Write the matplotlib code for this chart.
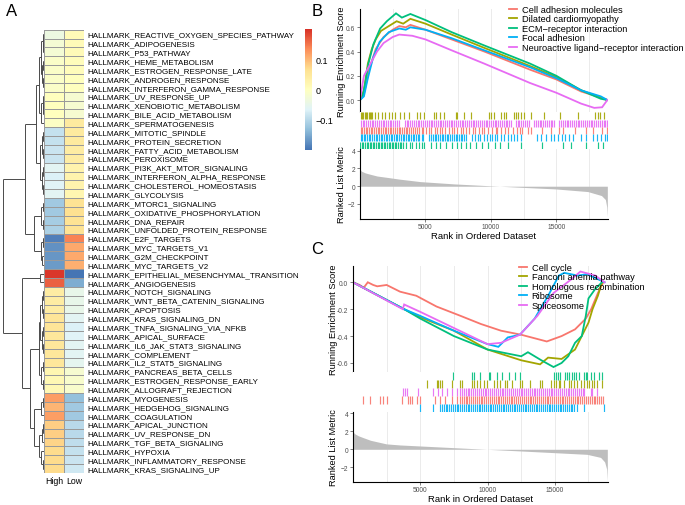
import numpy as np
import matplotlib
matplotlib.use("Agg")
import matplotlib.pyplot as plt
from matplotlib.colors import LinearSegmentedColormap
from matplotlib.lines import Line2D

plt.rcParams['font.family'] = ['Liberation Sans', 'DejaVu Sans']

# ---------------- Panel A data ----------------
pathways = [
    "REACTIVE_OXYGEN_SPECIES_PATHWAY", "ADIPOGENESIS", "P53_PATHWAY", "HEME_METABOLISM",
    "ESTROGEN_RESPONSE_LATE", "ANDROGEN_RESPONSE", "INTERFERON_GAMMA_RESPONSE", "UV_RESPONSE_UP",
    "XENOBIOTIC_METABOLISM", "BILE_ACID_METABOLISM", "SPERMATOGENESIS", "MITOTIC_SPINDLE",
    "PROTEIN_SECRETION", "FATTY_ACID_METABOLISM", "PEROXISOME", "PI3K_AKT_MTOR_SIGNALING",
    "INTERFERON_ALPHA_RESPONSE", "CHOLESTEROL_HOMEOSTASIS", "GLYCOLYSIS", "MTORC1_SIGNALING",
    "OXIDATIVE_PHOSPHORYLATION", "DNA_REPAIR", "UNFOLDED_PROTEIN_RESPONSE", "E2F_TARGETS",
    "MYC_TARGETS_V1", "G2M_CHECKPOINT", "MYC_TARGETS_V2", "EPITHELIAL_MESENCHYMAL_TRANSITION",
    "ANGIOGENESIS", "NOTCH_SIGNALING", "WNT_BETA_CATENIN_SIGNALING", "APOPTOSIS",
    "KRAS_SIGNALING_DN", "TNFA_SIGNALING_VIA_NFKB", "APICAL_SURFACE", "IL6_JAK_STAT3_SIGNALING",
    "COMPLEMENT", "IL2_STAT5_SIGNALING", "PANCREAS_BETA_CELLS", "ESTROGEN_RESPONSE_EARLY",
    "ALLOGRAFT_REJECTION", "MYOGENESIS", "HEDGEHOG_SIGNALING", "COAGULATION",
    "APICAL_JUNCTION", "UV_RESPONSE_DN", "TGF_BETA_SIGNALING", "HYPOXIA",
    "INFLAMMATORY_RESPONSE", "KRAS_SIGNALING_UP"]
row_labels = ["HALLMARK_" + p for p in pathways]
col_labels = ["High", "Low"]

high = [-0.04, -0.025, -0.025, -0.01, -0.01, -0.01, -0.01, 0.0, 0.0, 0.0, -0.005,
        -0.09, -0.09, -0.085, -0.085, -0.06, -0.07, -0.065, -0.06,
        -0.12, -0.12, -0.115, -0.11,
        -0.19, -0.175, -0.17, -0.165,
        0.195, 0.165,
        0.04, 0.04, 0.04, 0.055, 0.055, 0.05, 0.05, 0.05, 0.05, 0.02, 0.015, 0.015,
        0.12, 0.1, 0.12, 0.08, 0.08, 0.075, 0.07, 0.07, 0.07]
low = [0.01, 0.01, 0.01, 0.005, 0.005, 0.0, 0.0, -0.02, -0.02, -0.02, 0.045,
       0.045, 0.045, 0.04, 0.04, 0.025, 0.025, 0.025, 0.02,
       0.06, 0.065, 0.06, 0.06,
       0.14, 0.11, 0.11, 0.105,
       -0.2, -0.15,
       -0.05, -0.05, -0.05, -0.06, -0.07, -0.065, -0.06, -0.06, -0.055, -0.02, -0.015, -0.015,
       -0.13, -0.12, -0.12, -0.1, -0.1, -0.095, -0.09, -0.085, -0.08]

# row dendrogram: (height, left, right); leaves are row indices
A1a = (5.5, (3.0, (1.5, 0, (1.0, 1, 2)), (2.0, (1.2, 3, 4), (1.0, 5, 6))),
       (3.5, (1.5, 7, (1.0, 8, 9)), 10))
A1b = (4.0, (2.5, (1.5, 11, 12), (1.2, 13, 14)), (2.0, (1.0, 15, 16), (1.3, 17, 18)))
A2 = (10.7, (3.0, (1.5, 19, 20), (1.2, 21, 22)), (3.5, (1.5, 23, 24), (2.0, 25, 26)))
B1 = (4.7, 27, 28)
B2a = (5.7, (4.0, (2.5, (1.5, 29, 30), (1.2, 31, 32)), (2.0, (1.0, 33, 34), (1.3, 35, 36))),
       (3.0, (1.5, 37, 38), (1.0, 39, 40)))
B2b = (10.7, (3.5, (1.8, 41, 42), 43),
       (5.0, (2.5, (1.2, 44, 45), 46), (3.0, 47, (1.5, 48, 49))))
dendro = (41.3, (19.0, (8.3, A1a, A1b), A2), (22.3, B1, (14.7, B2a, B2b)))

# ---------------- Panel B data ----------------
b_names = ["Cell adhesion molecules", "Dilated cardiomyopathy", "ECM\u2212receptor interaction",
           "Focal adhesion", "Neuroactive ligand\u2212receptor interaction"]
b_colors = ["#F8766D", "#A3A500", "#00BF7D", "#00B0F6", "#E76BF3"]

b_red_x = [0, 300, 700, 1200, 1800, 2500, 3000, 3500, 3850, 5000, 7000, 9500, 13000, 15000, 16900, 18400, 18900]
b_red_y = [0, 0.05, 0.25, 0.42, 0.52, 0.58, 0.61, 0.60, 0.62, 0.58, 0.50, 0.40, 0.25, 0.17, 0.07, 0.02, 0.0]
b_olive_x = [0, 300, 600, 900, 1200, 1600, 2200, 2800, 3300, 3850, 5000, 7000, 9500, 13000, 15000, 16900, 18400, 18900]
b_olive_y = [0, 0.08, 0.30, 0.42, 0.50, 0.57, 0.61, 0.65, 0.63, 0.67, 0.63, 0.54, 0.43, 0.28, 0.19, 0.08, 0.02, 0.0]
b_green_x = [0, 200, 400, 640, 1025, 1540, 2050, 2750, 3200, 3850, 5000, 7000, 9500, 13000, 15000, 16900, 18400, 18900]
b_green_y = [0, 0.03, 0.14, 0.30, 0.46, 0.59, 0.65, 0.715, 0.68, 0.71, 0.66, 0.56, 0.45, 0.30, 0.20, 0.08, 0.01, 0.0]
b_blue_x = [0, 300, 600, 1000, 1500, 2200, 3000, 3500, 3850, 5000, 7000, 9500, 13000, 15000, 16900, 18400, 18900]
b_blue_y = [0, 0.03, 0.18, 0.35, 0.48, 0.56, 0.59, 0.58, 0.60, 0.58, 0.51, 0.41, 0.27, 0.18, 0.08, 0.03, 0.0]
b_mag_x = [0, 300, 800, 1300, 1800, 2500, 3000, 4000, 5000, 7000, 9500, 13000, 15000, 16900, 17900, 18500, 18900]
b_mag_y = [0, 0.20, 0.30, 0.40, 0.47, 0.52, 0.54, 0.53, 0.50, 0.41, 0.30, 0.14, 0.06, -0.03, -0.065, -0.06, 0.0]

b_rug_olive = [50, 150, 250, 350, 450, 550, 650, 750, 850, 950, 1150, 1410, 1670, 1925, 2180, 2440,
               2690, 3075, 3330, 3720, 4360, 4614, 4870, 5640, 5770, 6150, 6410, 7300, 7430, 7950,
               8460, 9870, 10000, 10250, 10770, 10970, 11150, 11790, 11920, 12050, 12300, 12510,
               13070, 14050, 15250, 16660, 17990, 18150, 18330, 18660]
b_rug_mag = [60, 200, 330, 470, 600, 760, 890, 1020, 1170, 1300, 1450, 1580, 1720, 1860, 2000, 2130,
             2270, 2400, 2550, 2690, 2820, 2960, 3420, 3560, 3700, 3850, 3980, 4120, 4260, 4400,
             4540, 4690, 4820, 4960, 5100, 5250, 5390, 5520, 5660, 5800, 5950, 6090, 6220, 6360,
             6500, 6640, 6790, 6920, 7060, 7200, 7340, 7490, 7620, 7760, 7900, 8050, 8190, 8320,
             8460, 8600, 8740, 8890, 9020, 9160, 9300, 9450, 9590, 9720, 9860, 10000, 10150, 10290,
             10420, 10560, 10700, 10850, 10990, 11120, 11260, 11400, 11540, 11900, 12040, 12180,
             12320, 12460, 12600, 12750, 12890, 13300, 13440, 13580, 13720, 13860, 14000, 14150,
             14290, 14420, 14560, 14700, 14850, 15230, 15370, 15500, 15640, 15780, 15920, 16060,
             16200, 16350, 16490, 16630, 16770, 16920, 17060, 17200, 17340, 17480, 17620, 17760,
             17900, 18050, 18190, 18330, 18470, 18610, 18750, 18880]
b_rug_red = [40, 180, 300, 430, 560, 700, 830, 950, 1080, 1200, 1350, 1480, 1600, 1750, 1880, 2000,
             2150, 2280, 2400, 2540, 2680, 2800, 2950, 3080, 3200, 3350, 3480, 3620, 3760, 3900,
             4050, 4200, 4350, 4500, 4700, 4850, 5050, 5300, 5450, 5700, 5900, 6150, 6300, 6500,
             6800, 7000, 7200, 7450, 7700, 7850, 8100, 8300, 8600, 8800, 9100, 9300, 9500, 9800,
             10100, 10400, 10500, 10800, 11100, 11300, 11700, 12000, 12200, 12400, 12800, 13100,
             13900, 14600, 15200, 15500, 16400, 17300, 17800, 18500, 18900]
b_rug_blue = [50, 170, 290, 420, 550, 680, 800, 930, 1060, 1190, 1320, 1450, 1580, 1700, 1830, 1960,
              2090, 2220, 2350, 2480, 2600, 2730, 2860, 2990, 3120, 3250, 3380, 3500, 3630, 3760,
              3890, 4020, 4150, 4280, 4410, 4540, 4700, 4850, 5300, 5430, 5560, 5700, 5830, 5960,
              6100, 6230, 6360, 6500, 6630, 6760, 6900, 7030, 7160, 7300, 7430, 7560, 7700, 7830,
              7960, 8100, 8550, 8800, 9000, 9200, 9500, 9700, 9900, 10100, 10300, 10500, 10800,
              11000, 11300, 11500, 11800, 12000, 12300, 13500, 13800, 14200, 14600, 14800, 15100,
              15400, 15700, 16000, 16300, 16900, 17300, 17800, 18100, 18400, 18700, 18900]
b_rug_green = [30, 140, 260, 380, 500, 620, 740, 860, 980, 1100, 1220, 1340, 1460, 1580, 1700, 1820,
               1940, 2060, 2180, 2300, 2420, 2540, 2660, 2780, 2900, 3020, 3140, 3280, 3550, 3800,
               4000, 4250, 4500, 4700, 4900, 5400, 5800, 6100, 6600, 7000, 7400, 7700, 8100, 8400,
               8900, 9300, 9800, 10300, 10700, 11300, 12300, 13900, 15500, 16100, 17300, 18200, 18600]

b_metric_x = [0, 100, 400, 770, 1300, 2050, 3000, 4600, 7200, 9700, 12300, 14900, 17400, 18450, 18750, 18850, 18900]
b_metric_y = [1.95, 1.7, 1.5, 1.35, 1.15, 1.0, 0.8, 0.52, 0.26, 0.07, -0.12, -0.3, -0.6, -1.05, -1.5, -2.3, -3.4]

# ---------------- Panel C data ----------------
c_names = ["Cell cycle", "Fanconi anemia pathway", "Homologous recombination", "Ribosome", "Spliceosome"]
c_colors = ["#F8766D", "#A3A500", "#00BF7D", "#00B0F6", "#E76BF3"]

c_red_x = [0, 500, 800, 1100, 1500, 1800, 2500, 3500, 4700, 6200, 8000, 9500, 11000, 12500, 14400, 15500, 16500, 17300, 17700, 18200, 18600]
c_red_y = [0, -0.02, -0.04, 0.0, -0.02, -0.03, -0.02, -0.07, -0.10, -0.18, -0.25, -0.31, -0.36, -0.39, -0.44, -0.40, -0.35, -0.27, -0.20, -0.08, 0.0]
c_olive_x = [0, 3800, 5000, 7500, 10000, 12500, 13900, 14500, 15500, 16500, 17000, 17500, 17800, 18200, 18500]
c_olive_y = [0, -0.20, -0.26, -0.36, -0.50, -0.58, -0.61, -0.56, -0.57, -0.50, -0.40, -0.30, -0.20, -0.10, 0.0]
c_green_x = [0, 3800, 5000, 7500, 10000, 12500, 13000, 14000, 14900, 15500, 16000, 16500, 17000, 17300, 17500, 18000, 18500]
c_green_y = [0, -0.20, -0.27, -0.40, -0.50, -0.55, -0.52, -0.58, -0.63, -0.60, -0.55, -0.45, -0.40, -0.25, -0.12, -0.05, 0.0]
c_blue_x = [0, 3800, 5000, 7500, 10000, 10800, 11500, 12400, 13500, 14500, 15300, 15700, 16700, 17400, 18700]
c_blue_y = [0, -0.20, -0.25, -0.36, -0.46, -0.48, -0.41, -0.39, -0.27, -0.10, 0.05, 0.07, 0.05, 0.06, 0.0]
c_mag_x = [0, 3700, 3800, 5000, 7500, 10000, 11000, 12400, 13700, 14900, 16200, 16900, 18000, 18700]
c_mag_y = [0, -0.20, -0.165, -0.22, -0.34, -0.46, -0.45, -0.39, -0.25, -0.08, 0.02, 0.08, 0.05, 0.0]

c_rug_green = [7460, 8830, 8955, 9450, 10080, 10200, 10700, 11070, 11570, 12060, 12440, 14920, 15050,
               15220, 15420, 15790, 15920, 16040, 16290, 16410, 16540, 16790, 17160, 17280, 17410,
               17660, 17900, 18280, 18530]
c_rug_olive = [5470, 6220, 6340, 6470, 6590, 7340, 7960, 8080, 8830, 8955, 9200, 9450, 9700, 9950,
               10450, 10700, 10940, 11320, 11440, 11820, 12440, 12560, 13190, 13930, 14060, 14680,
               14920, 15050, 15300, 15420, 15670, 16040, 16170, 16410, 16660, 16910, 17160, 17410,
               17530, 17780, 17900, 18150, 18530]
c_rug_mag = [3730, 3860, 3980, 4850, 5970, 6340, 6590, 6960, 7340, 7710, 7960, 8100, 8250, 8380, 8520,
             8650, 8800, 8940, 9080, 9230, 9360, 9500, 9650, 9790, 9920, 10060, 10200, 10350, 10480,
             10620, 10760, 10900, 11050, 11180, 11320, 11460, 11600, 11750, 11880, 12020, 12160,
             12300, 12450, 12580, 12720, 12860, 13000, 13150, 13280, 13420, 13560, 13700, 13850,
             13980, 14120, 14260, 14400, 14550, 14680, 14820, 14960, 15100, 15250, 15380, 15520,
             15660, 15800, 15950, 16080, 16220, 16360, 16500, 16650, 16780, 16920, 17060, 17160,
             17660, 17780, 18150]
c_rug_red = [750, 1250, 2000, 2240, 2490, 3610, 4110, 4230, 4360, 4730, 4980, 6100, 6470, 6840, 7340,
             7710, 7960, 8100, 8240, 8380, 8500, 8650, 8790, 8920, 9060, 9200, 9340, 9480, 9620, 9750,
             9900, 10040, 10180, 10320, 10450, 10600, 10740, 10880, 11020, 11150, 11300, 11440,
             11580, 11720, 11850, 12000, 12140, 12280, 12420, 12550, 12700, 12840, 12980, 13120,
             13250, 13400, 13540, 13680, 13820, 13950, 14100, 14240, 14380, 14520, 14650, 14800,
             14940, 15080, 15220, 15350, 15500, 15640, 15780, 15920, 16050, 16200, 16340, 16480,
             16620, 16750, 16900, 17040, 17180, 17320, 17450, 17600, 17740, 17880, 18020, 18150,
             18300, 18440, 18580]
c_rug_blue = [4980, 5970, 6470, 6600, 6740, 6880, 7010, 7150, 7290, 7420, 7560, 7700, 7830, 7970, 8110,
              8240, 8380, 8520, 8650, 8790, 8930, 9060, 9200, 9340, 9470, 9610, 9750, 9880, 10020,
              10160, 10290, 10430, 10570, 10700, 10840, 10980, 11110, 11250, 11390, 11520, 11660,
              11800, 11930, 12070, 12210, 12340, 12480, 12620, 12750, 12890, 13030, 13160, 13300,
              13440, 13570, 13710, 13850, 13980, 14120, 14260, 14390, 14530, 14670, 14800, 14940,
              15080, 15210, 15350, 15490, 15620, 15760, 15900, 16030, 16170, 16300, 16410, 16660,
              17160, 18650]

c_metric_x = [0, 100, 400, 750, 1300, 2480, 3500, 4980, 7500, 9950, 12400, 14920, 17400, 18400, 18700, 18850, 18900]
c_metric_y = [2.0, 1.75, 1.5, 1.3, 1.0, 0.6, 0.48, 0.37, 0.18, 0.0, -0.18, -0.37, -0.56, -0.9, -1.4, -2.2, -3.5]

x_ticks = [5000, 10000, 15000]
x_max = 18950

# ---------------- figure ----------------
W, H = 685.0, 506.0
def rect(x0, y0, x1, y1):
    return [x0 / W, 1 - y1 / H, (x1 - x0) / W, (y1 - y0) / H]

fig = plt.figure(figsize=(6.85, 5.06), dpi=100)

cmap = LinearSegmentedColormap.from_list(
    "pheat", ["#4575B4", "#91BFDB", "#E0F3F8", "#FFFFBF", "#FEE090", "#FC8D59", "#D73027"])

# heatmap
axh = fig.add_axes(rect(44.3, 30.7, 84.0, 474.0))
M = np.column_stack([high, low])
mesh = axh.pcolormesh(M, cmap=cmap, vmin=-0.2, vmax=0.2, edgecolors="#9a9a9a", linewidth=0.4)
axh.set_xlim(0, 2)
axh.set_ylim(len(row_labels), 0)
axh.set_yticks(np.arange(len(row_labels)) + 0.5)
axh.set_yticklabels(row_labels, fontsize=5.8)
axh.yaxis.tick_right()
axh.tick_params(axis="y", length=0, pad=2.5)
axh.set_xticks([0.5, 1.5])
axh.set_xticklabels(col_labels, fontsize=6.3)
axh.tick_params(axis="x", length=0, pad=2.5)
for s in axh.spines.values():
    s.set_visible(False)

# dendrogram
axd = fig.add_axes(rect(2.0, 30.7, 44.3, 474.0))
axd.set_ylim(len(row_labels), 0)
axd.set_xlim(42.3, 0)
axd.axis("off")

def draw_node(node):
    if isinstance(node, int):
        return node + 0.5, 0.0
    h, l, r = node
    yl, hl = draw_node(l)
    yr, hr = draw_node(r)
    kw = dict(color="#4a4a4a", lw=0.7, solid_capstyle="butt")
    axd.plot([hl, h], [yl, yl], **kw)
    axd.plot([hr, h], [yr, yr], **kw)
    axd.plot([h, h], [yl, yr], **kw)
    return (yl + yr) / 2.0, h

draw_node(dendro)

# colorbar
cax = fig.add_axes(rect(305.0, 30.0, 311.7, 150.7))
cb = fig.colorbar(mesh, cax=cax, ticks=[-0.1, 0, 0.1])
cb.outline.set_visible(False)
cb.set_ticklabels(["\u22120.1", "0", "0.1"])
cax.tick_params(length=0, labelsize=6.5, pad=3)

# GSEA panels
tick_col = "#4d4d4d"

def gsea_panel(top_r, rug_r, rank_r, curves, colors, names, rug_rows, rug_cols,
               mx, my, es_ylim, es_ticks, rank_ylim, leg_xy, ylab_x):
    ax1 = fig.add_axes(rect(*top_r))
    ax2 = fig.add_axes(rect(*rug_r))
    ax3 = fig.add_axes(rect(*rank_r))
    for ax in (ax1, ax2, ax3):
        ax.set_xlim(0, x_max)
        ax.set_facecolor("white")
    for ax in (ax1, ax3):
        for g in [2500, 5000, 7500, 10000, 12500, 15000, 17500]:
            ax.axvline(g, color="#ebebeb", lw=0.7, zorder=0)
        ax.spines["top"].set_visible(False)
        ax.spines["right"].set_visible(False)
        ax.spines["left"].set_linewidth(0.8)
        ax.tick_params(axis="y", labelsize=4.8, colors=tick_col, length=2, width=0.5, pad=1.5)
    # running ES
    for (xs, ys), c in zip(curves, colors):
        ax1.plot(xs, ys, color=c, lw=1.3, solid_joinstyle="miter")
    ax1.set_ylim(*es_ylim)
    ax1.set_yticks(es_ticks)
    ax1.set_yticklabels(["%.1f" % t for t in es_ticks])
    ax1.spines["bottom"].set_visible(False)
    ax1.set_xticks([])
    ax1.set_ylabel("Running Enrichment Score", fontsize=6.7)
    # rug
    nrow = len(rug_rows)
    for i, (xs, c) in enumerate(zip(rug_rows, rug_cols)):
        ax2.vlines(xs, i + 0.02, i + 0.98, color=c, lw=0.85, alpha=0.9)
    ax2.set_ylim(nrow, 0)
    ax2.set_xticks([]); ax2.set_yticks([])
    for s in ax2.spines.values():
        s.set_visible(False)
    # ranked metric
    ax3.fill_between(mx, 0, my, color="#bebebe", lw=0)
    ax3.set_ylim(*rank_ylim)
    ax3.set_yticks([-2, 0, 2, 4])
    ax3.set_xticks(x_ticks)
    ax3.spines["bottom"].set_linewidth(0.8)
    ax3.tick_params(axis="x", labelsize=4.8, colors=tick_col, length=2, width=0.5, pad=1.0)
    ax3.set_ylabel("Ranked List Metric", fontsize=6.7)
    ax3.set_xlabel("Rank in Ordered Dataset", fontsize=6.8, labelpad=0.5)
    ax1.yaxis.set_label_coords(ylab_x, 0.5)
    ax3.yaxis.set_label_coords(ylab_x, 0.5)
    # legend
    handles = [Line2D([], [], color=c, lw=1.3) for c in colors]
    fig.legend(handles, names, loc="upper left", bbox_to_anchor=leg_xy,
               frameon=False, fontsize=6.7, handlelength=0.9, handletextpad=0.45,
               labelspacing=0.05, borderpad=0, borderaxespad=0)

gsea_panel((360, 10, 608, 113), (360, 113, 608, 150), (360, 150, 608, 220),
           [(b_red_x, b_red_y), (b_olive_x, b_olive_y), (b_green_x, b_green_y),
            (b_blue_x, b_blue_y), (b_mag_x, b_mag_y)],
           b_colors, b_names,
           [b_rug_olive, b_rug_mag, b_rug_red, b_rug_blue, b_rug_green],
           [b_colors[1], b_colors[4], b_colors[0], b_colors[3], b_colors[2]],
           b_metric_x, b_metric_y, (-0.099, 0.751), [0.0, 0.2, 0.4, 0.6], (-3.69, 4.19),
           (509 / W, 1 - 6 / H), -0.055)

gsea_panel((353, 267, 608, 373), (353, 373, 608, 413), (353, 413, 608, 483),
           [(c_red_x, c_red_y), (c_olive_x, c_olive_y), (c_green_x, c_green_y),
            (c_blue_x, c_blue_y), (c_mag_x, c_mag_y)],
           c_colors, c_names,
           [c_rug_green, c_rug_olive, c_rug_mag, c_rug_red, c_rug_blue],
           [c_colors[2], c_colors[1], c_colors[4], c_colors[0], c_colors[3]],
           c_metric_x, c_metric_y, (-0.667, 0.121), [-0.6, -0.4, -0.2, 0.0], (-3.63, 4.14),
           (519 / W, 1 - 264 / H), -0.06)

# panel letters
fig.text(12 / W, 1 - 12 / H, "A", fontsize=12, ha="center", va="center")
fig.text(317 / W, 1 - 11 / H, "B", fontsize=12, ha="center", va="center")
fig.text(317 / W, 1 - 250 / H, "C", fontsize=12, ha="center", va="center")

fig.savefig("out.png", dpi=100)
